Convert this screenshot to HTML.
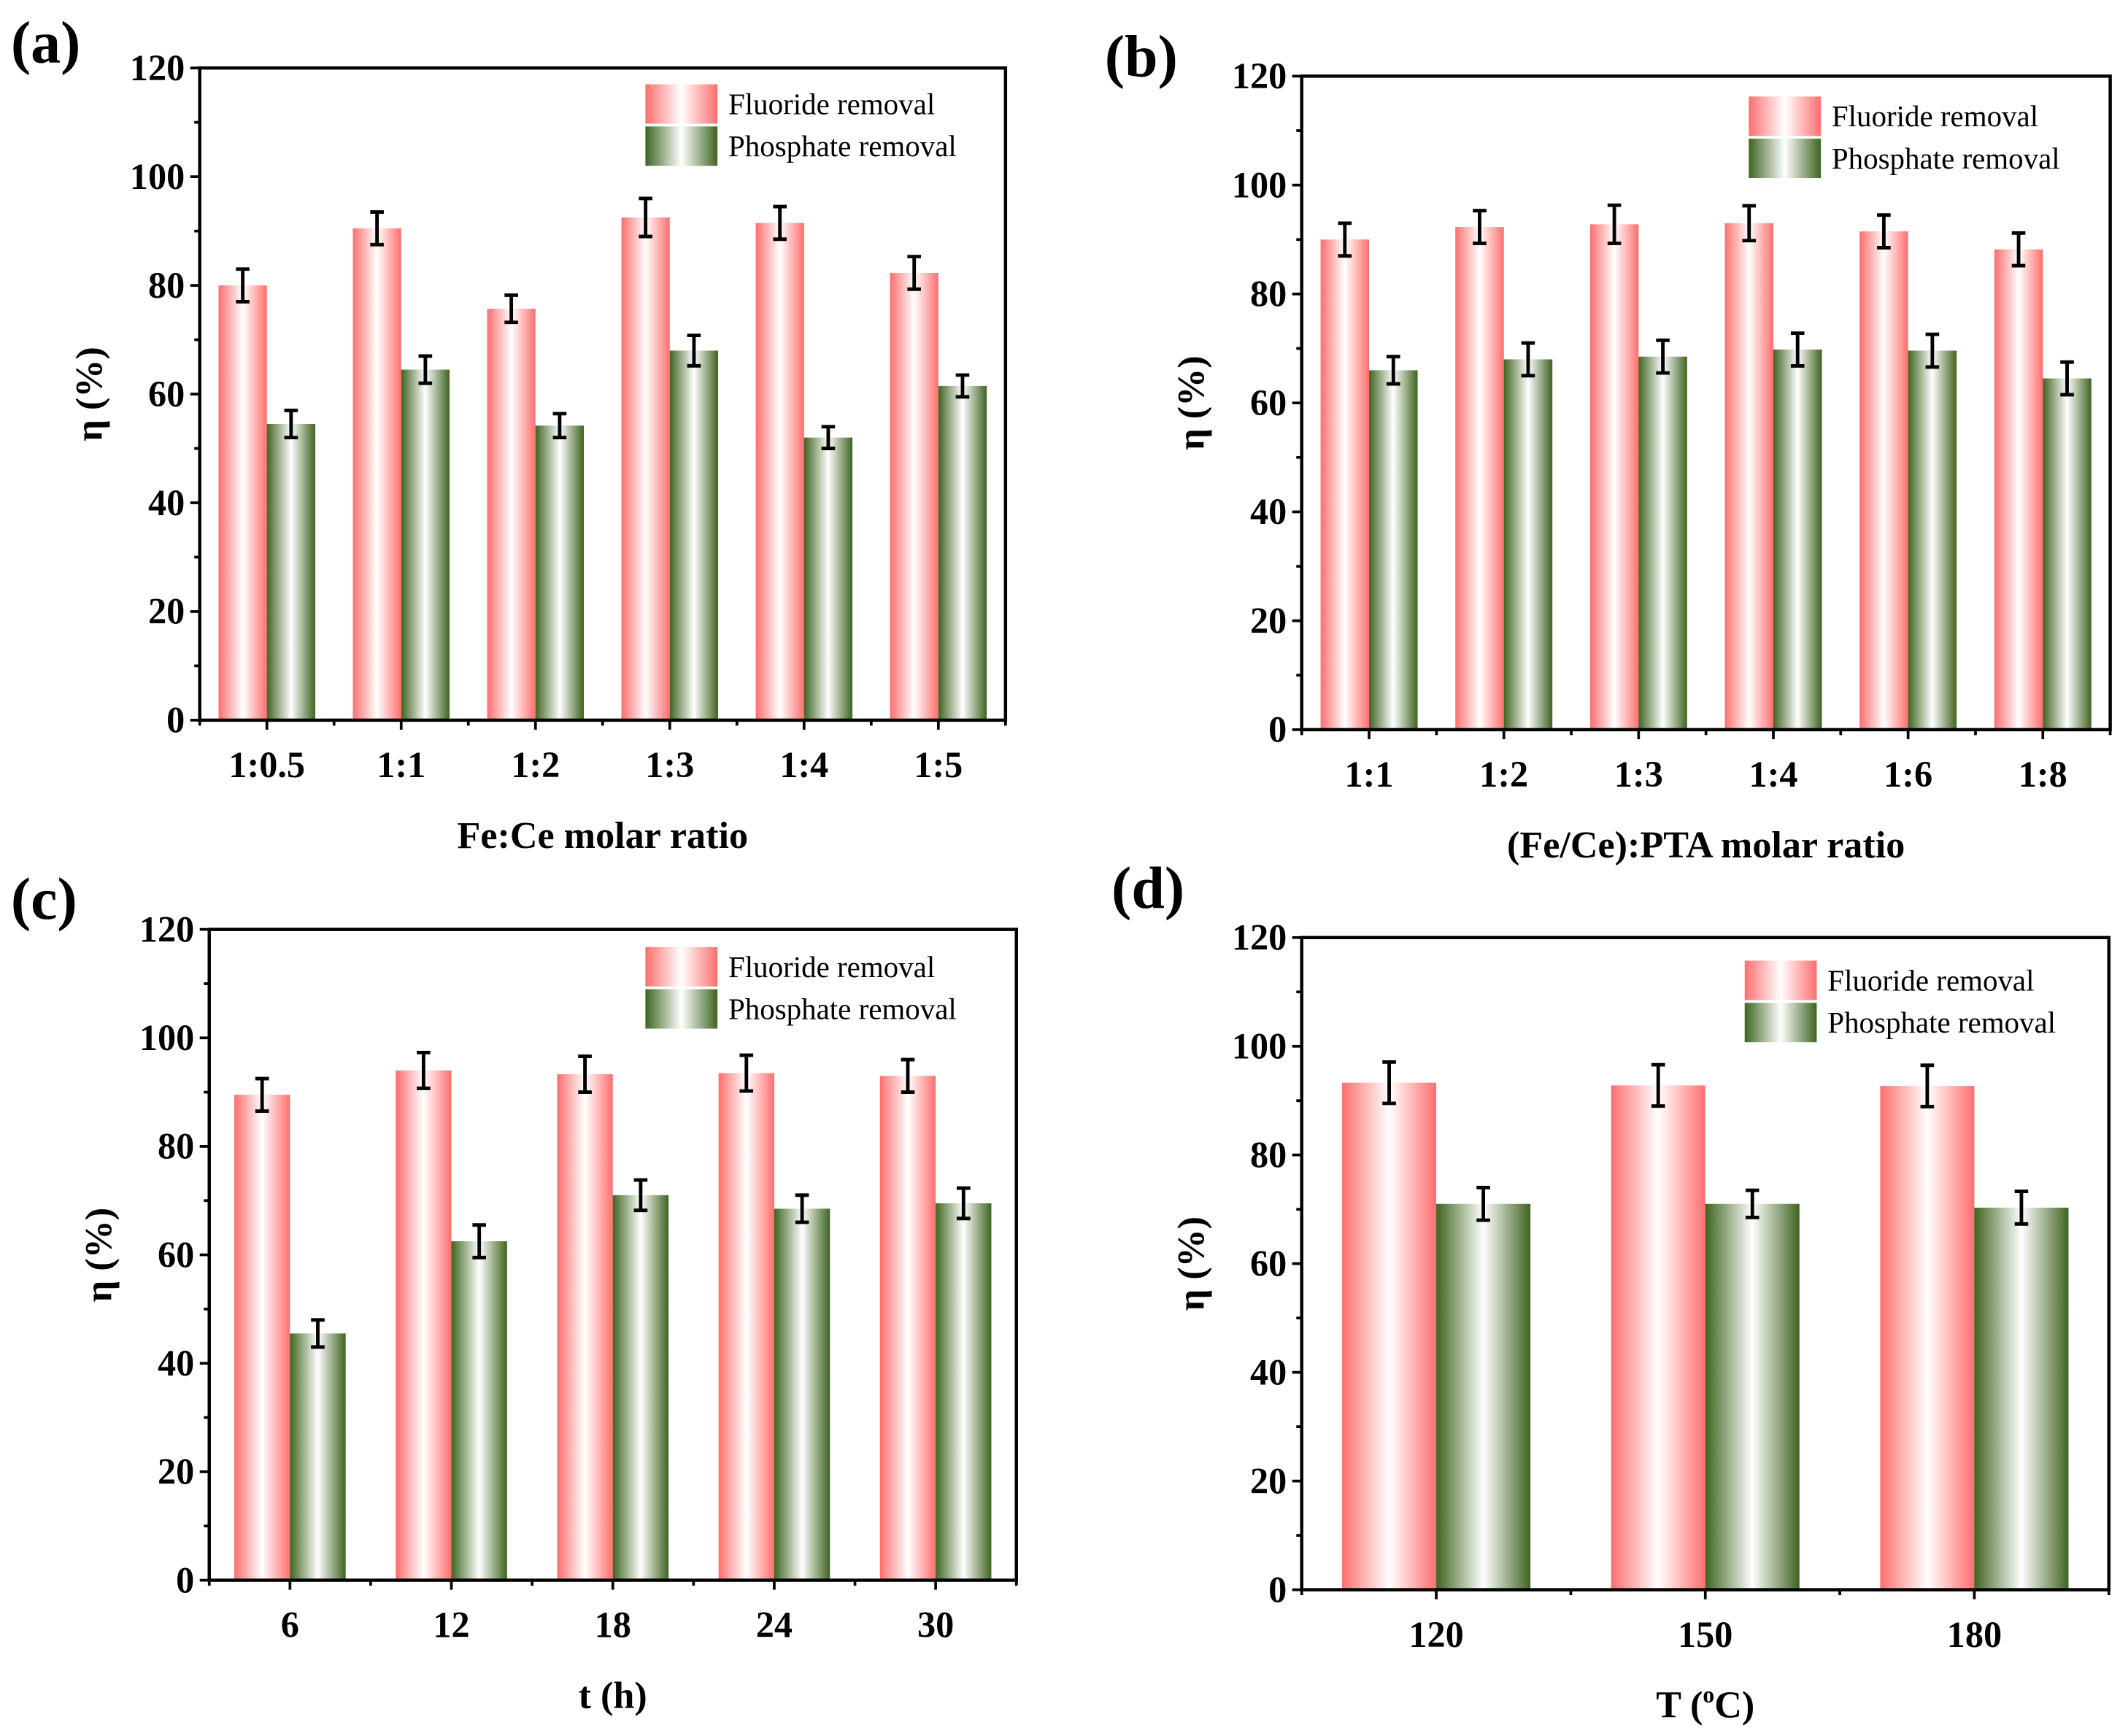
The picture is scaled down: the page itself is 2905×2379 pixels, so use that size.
<!DOCTYPE html>
<html><head><meta charset="utf-8"><style>html,body{margin:0;padding:0;background:#fff}svg{display:block}</style></head>
<body>
<svg id="fig" xmlns="http://www.w3.org/2000/svg" width="2905" height="2379" viewBox="0 0 1560.2 1277.6" font-family="'Liberation Serif', serif">
<defs>
<linearGradient id="gF" x1="0" x2="1" y1="0" y2="0"><stop offset="0" stop-color="#ff6e6e"/><stop offset="0.5" stop-color="#ffffff"/><stop offset="1" stop-color="#ff6e6e"/></linearGradient>
<linearGradient id="gP" x1="0" x2="1" y1="0" y2="0"><stop offset="0" stop-color="#3f6420"/><stop offset="0.5" stop-color="#ffffff"/><stop offset="1" stop-color="#3f6420"/></linearGradient>
</defs>
</svg>
<script>
// Panel (a)
const catsA = ['1:0.5','1:1','1:2','1:3','1:4','1:5'];
const fluorA = [80, 90.5, 75.7, 92.5, 91.5, 82.3];
const fluorErrA = [3, 3, 2.5, 3.5, 3, 3];
const phosA = [54.5, 64.5, 54.2, 68, 52, 61.5];
const phosErrA = [2.5, 2.5, 2.2, 2.8, 2, 2];
// Panel (b)
const catsB = ['1:1','1:2','1:3','1:4','1:6','1:8'];
const fluorB = [90, 92.3, 92.8, 93, 91.5, 88.2];
const fluorErrB = [3, 3, 3.5, 3.2, 3, 3];
const phosB = [66, 68, 68.5, 69.8, 69.6, 64.5];
const phosErrB = [2.5, 3, 3, 3, 3, 3];
// Panel (c)
const catsC = ['6','12','18','24','30'];
const fluorC = [89.5, 94, 93.3, 93.5, 93];
const fluorErrC = [3, 3.3, 3.3, 3.3, 3];
const phosC = [45.5, 62.5, 71, 68.5, 69.5];
const phosErrC = [2.5, 3, 2.8, 2.5, 2.8];
// Panel (d)
const catsD = ['120','150','180'];
const fluorD = [93.3, 92.8, 92.7];
const fluorErrD = [3.8, 3.8, 3.8];
const phosD = [71, 71, 70.3];
const phosErrD = [3, 2.5, 3];
const yTicks = [0, 20, 40, 60, 80, 100, 120];

const NS = 'http://www.w3.org/2000/svg';
const svg = document.getElementById('fig');
function mk(tag, attrs, parent, text){
  const e = document.createElementNS(NS, tag);
  for (const k in attrs) e.setAttribute(k, attrs[k]);
  if (text !== undefined) e.textContent = text;
  parent.appendChild(e);
  return e;
}

function panel(o){
  const g = mk('g', {}, svg);
  
  
  const n = o.cats.length;
  const xs = v => o.L + (v - 0.5) / n * (o.R - o.L);
  const ys = v => o.B - v / 120 * (o.B - o.T);
  const bw = o.bw * (o.R - o.L) / n;
  for (let i = 0; i < n; i++){
    const cx = xs(i + 1);
    const f = mk('rect', {x: cx - bw, y: ys(o.f[i]), width: bw, height: ys(0) - ys(o.f[i]), fill: 'url(#gF)'}, g);
    
    
    const p = mk('rect', {x: cx, y: ys(o.p[i]), width: bw, height: ys(0) - ys(o.p[i]), fill: 'url(#gP)'}, g);
    
    
    [[cx - bw/2, o.f[i], o.fe[i]], [cx + bw/2, o.p[i], o.pe[i]]].forEach(([ex, v, e]) => {
      const eg = mk('g', {stroke: '#000', 'stroke-width': 2.6}, g);
      
      
      mk('line', {x1: ex, x2: ex, y1: ys(v - e), y2: ys(v + e)}, eg);
      mk('line', {x1: ex - 5, x2: ex + 5, y1: ys(v - e), y2: ys(v - e)}, eg);
      mk('line', {x1: ex - 5, x2: ex + 5, y1: ys(v + e), y2: ys(v + e)}, eg);
    });
  }
  const fr = mk('rect', {x: o.L, y: o.T, width: o.R - o.L, height: o.B - o.T, fill: 'none', stroke: '#000', 'stroke-width': 2.4}, g);
  
  
  for (let v = 0; v <= 120; v += 10){
    const major = v % 20 === 0;
    mk('line', {x1: o.L, x2: o.L - (major ? 7 : 4), y1: ys(v), y2: ys(v), stroke: '#000', 'stroke-width': 2}, g);
  }
  yTicks.forEach(v => {
    const t = mk('text', {x: o.L - 11, y: ys(v) + 9, 'text-anchor': 'end', 'font-size': 27, 'font-weight': 'bold'}, g, String(v));
    
    
  });
  for (let k = 0; k <= 2 * n; k++){
    const v = 0.5 + k / 2;
    const major = k % 2 === 1;
    mk('line', {x1: xs(v), x2: xs(v), y1: o.B, y2: o.B + (major ? 7 : 4), stroke: '#000', 'stroke-width': 2}, g);
  }
  o.cats.forEach((c, i) => {
    const t = mk('text', {x: xs(i + 1), y: o.B + 42, 'text-anchor': 'middle', 'font-size': 27, 'font-weight': 'bold'}, g, c);
    
    
  });
  const yt = mk('text', {x: 0, y: 0, transform: `translate(${o.L - 72},${(o.T + o.B) / 2}) rotate(-90)`, 'text-anchor': 'middle', 'font-size': 28, 'font-weight': 'bold'}, g, 'η (%)');
  
  
  const xt = mk('text', {x: (o.L + o.R) / 2, y: o.B + 94, 'text-anchor': 'middle', 'font-size': 28, 'font-weight': 'bold'}, g);
  
  
  if (o.xsup){
    mk('tspan', {}, xt, o.xt[0]);
    mk('tspan', {'font-size': 17, dy: -11}, xt, o.xsup);
    mk('tspan', {dy: 11}, xt, o.xt[1]);
  } else xt.textContent = o.xt;
  const pl = mk('text', {x: o.lx, y: o.ly, 'font-size': 44, 'font-weight': 'bold'}, g, '(' + o.id + ')');
  
  
  const lg = mk('g', {}, g);
  
  
  [['url(#gF)', 'Fluoride removal'], ['url(#gP)', 'Phosphate removal']].forEach(([fill, lab], j) => {
    const e = mk('g', {}, lg);
    
    
    mk('rect', {x: o.gx, y: o.gy + j * 31 - 14, width: 53, height: 29, fill: fill}, e);
    mk('text', {x: o.gx + 61, y: o.gy + j * 31 + 8, 'font-size': 22}, e, lab);
  });
}

panel({id: 'a', cats: catsA, f: fluorA, fe: fluorErrA, p: phosA, pe: phosErrA, L: 147, R: 740, T: 50, B: 530, bw: 0.36, xt: 'Fe:Ce molar ratio', lx: 8, ly: 46, gx: 475, gy: 76});
panel({id: 'b', cats: catsB, f: fluorB, fe: fluorErrB, p: phosB, pe: phosErrB, L: 958, R: 1553, T: 56, B: 537, bw: 0.36, xt: '(Fe/Ce):PTA molar ratio', lx: 813, ly: 56, gx: 1287, gy: 85});
panel({id: 'c', cats: catsC, f: fluorC, fe: fluorErrC, p: phosC, pe: phosErrC, L: 154, R: 748, T: 684, B: 1163, bw: 0.345, xt: 't (h)', lx: 8, ly: 676, gx: 475, gy: 711});
panel({id: 'd', cats: catsD, f: fluorD, fe: fluorErrD, p: phosD, pe: phosErrD, L: 958, R: 1552, T: 690, B: 1170, bw: 0.35, xt: ['T (', 'C)'], xsup: 'o', lx: 818, ly: 668, gx: 1284, gy: 721});
</script>
</body></html>
